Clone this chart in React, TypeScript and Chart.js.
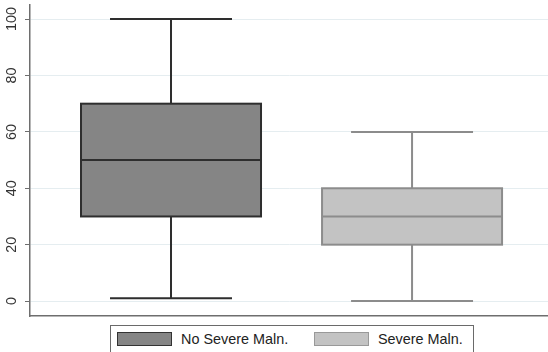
import React, { useEffect, useRef } from "react";
import { Chart, registerables } from "chart.js";

Chart.register(...registerables);

// Box-plot summary per group
const groups = ["No Severe Maln.", "Severe Maln."];
const groupPos = [1, 2];
const whiskerLow = [1, 0];
const q1 = [30, 20];
const median = [50, 30];
const q3 = [70, 40];
const whiskerHigh = [100, 60];
const yTicks = [0, 20, 40, 60, 80, 100];

const fills = ["#858585", "#c3c3c3"];
const strokes = ["#2e2e2e", "#8c8c8c"];

const BOX_HALF = 0.3734;
const CAP_HALF = 0.253;
const FONT = '"Liberation Sans", Arial, sans-serif';

const boxPlugin = {
  id: "boxes",
  afterDatasetsDraw(chart: any) {
    const { ctx } = chart;
    const xs = chart.scales.x;
    const ys = chart.scales.y;
    groups.forEach((_, i) => {
      const cx = xs.getPixelForValue(groupPos[i]);
      const bl = xs.getPixelForValue(groupPos[i] - BOX_HALF);
      const br = xs.getPixelForValue(groupPos[i] + BOX_HALF);
      const cl = xs.getPixelForValue(groupPos[i] - CAP_HALF);
      const cr = xs.getPixelForValue(groupPos[i] + CAP_HALF);
      const yLo = ys.getPixelForValue(whiskerLow[i]);
      const yQ1 = ys.getPixelForValue(q1[i]);
      const yMed = ys.getPixelForValue(median[i]);
      const yQ3 = ys.getPixelForValue(q3[i]);
      const yHi = ys.getPixelForValue(whiskerHigh[i]);
      ctx.save();
      ctx.strokeStyle = strokes[i];
      ctx.lineWidth = 2;
      ctx.beginPath();
      // whiskers
      ctx.moveTo(cx, yQ3);
      ctx.lineTo(cx, yHi);
      ctx.moveTo(cl, yHi);
      ctx.lineTo(cr, yHi);
      ctx.moveTo(cx, yQ1);
      ctx.lineTo(cx, yLo);
      ctx.moveTo(cl, yLo);
      ctx.lineTo(cr, yLo);
      ctx.stroke();
      // box
      ctx.fillStyle = fills[i];
      ctx.fillRect(bl, yQ3, br - bl, yQ1 - yQ3);
      ctx.strokeRect(bl, yQ3, br - bl, yQ1 - yQ3);
      // median
      ctx.beginPath();
      ctx.moveTo(bl, yMed);
      ctx.lineTo(br, yMed);
      ctx.stroke();
      ctx.restore();
    });
  },
  afterDraw(chart: any) {
    // rotated y tick labels
    const { ctx } = chart;
    const ys = chart.scales.y;
    ctx.save();
    ctx.fillStyle = "#333333";
    ctx.font = `14.4px ${FONT}`;
    ctx.textAlign = "center";
    ctx.textBaseline = "middle";
    ys.ticks.forEach((t: any) => {
      const y = ys.getPixelForValue(t.value);
      ctx.save();
      ctx.translate(12.5, y);
      ctx.rotate(-Math.PI / 2);
      ctx.fillText(String(t.value), 0, 0);
      ctx.restore();
    });
    ctx.restore();
  },
};

export default function App() {
  const ref = useRef<HTMLCanvasElement | null>(null);

  useEffect(() => {
    document.body.style.margin = "0";
    if (!ref.current) return;
    const chart = new Chart(ref.current, {
      type: "scatter",
      data: {
        datasets: groups.map((g, i) => ({
          label: g,
          data: [{ x: groupPos[i], y: median[i] }],
          pointRadius: 0,
          backgroundColor: fills[i],
          borderColor: strokes[i],
        })),
      },
      options: {
        animation: false,
        responsive: false,
        maintainAspectRatio: false,
        layout: { padding: { top: 5, bottom: 36, left: 0, right: 0 } },
        plugins: {
          legend: { display: false },
          tooltip: { enabled: false },
        },
        scales: {
          x: {
            type: "linear",
            min: 0.415,
            max: 2.564,
            ticks: { display: false },
            grid: { display: false, drawTicks: false },
            border: { display: true, color: "#6e6e6e", width: 1.5 },
            afterFit: (s: any) => {
              s.height = 0;
            },
          },
          y: {
            type: "linear",
            min: -5.3,
            max: 105,
            ticks: { display: false },
            afterBuildTicks: (s: any) => {
              s.ticks = yTicks.map((v) => ({ value: v }));
            },
            afterFit: (s: any) => {
              s.width = 30;
            },
            grid: {
              color: "#e5edf0",
              lineWidth: 1,
              drawTicks: true,
              tickLength: 5,
              tickColor: "#6e6e6e",
            },
            border: { display: true, color: "#6e6e6e", width: 1.5 },
          },
        },
      },
      plugins: [boxPlugin],
    });
    return () => chart.destroy();
  }, []);

  const swatch = (i: number, left: number) => (
    <div
      style={{
        position: "absolute",
        left,
        top: 6,
        width: 55,
        height: 14,
        boxSizing: "border-box",
        background: fills[i],
        border: `1.5px solid ${i === 0 ? "#333" : "#999"}`,
      }}
    />
  );
  const label = (i: number, left: number) => (
    <span
      style={{
        position: "absolute",
        left,
        top: 5,
        lineHeight: "16px",
        fontSize: "14.4px",
        fontFamily: FONT,
        color: "#222",
        whiteSpace: "nowrap",
      }}
    >
      {groups[i]}
    </span>
  );

  return (
    <div style={{ position: "relative", width: 548, height: 352, overflow: "hidden", background: "#fff" }}>
      <canvas ref={ref} width={548} height={352} style={{ position: "absolute", left: 0, top: 0 }} />
      <div
        style={{
          position: "absolute",
          left: 110,
          top: 325,
          width: 362,
          height: 40,
          border: "1px solid #6a6a6a",
          background: "#fff",
        }}
      >
        {swatch(0, 6)}
        {label(0, 70)}
        {swatch(1, 203)}
        {label(1, 267)}
      </div>
    </div>
  );
}
